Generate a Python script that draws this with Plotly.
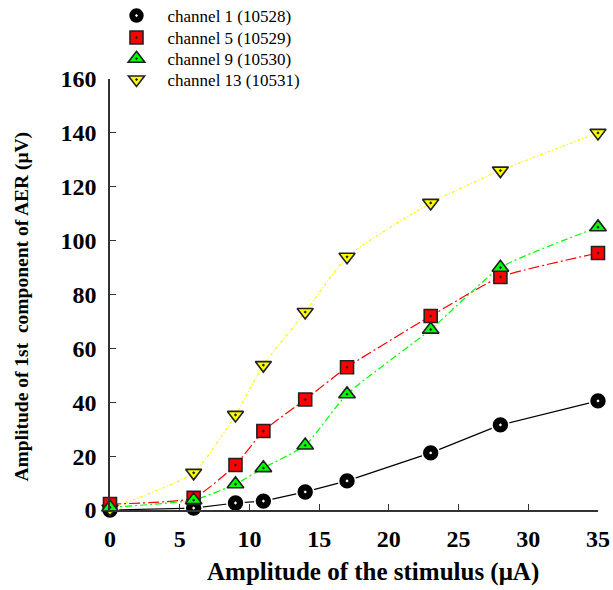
import plotly.graph_objects as go

x = [0, 6, 9, 11, 14, 17, 23, 28, 35]
ch1 = [0, 0.7, 2.6, 3.3, 6.7, 10.8, 21.2, 31.6, 40.5]
ch5 = [2.2, 4.5, 16.7, 29.3, 41, 53, 72, 86.5, 95.4]
ch9 = [1, 3.7, 9.6, 15.6, 24, 43, 67, 90, 105]
ch13 = [0.5, 13.8, 35.3, 53.8, 73.5, 94, 114, 126, 140]
names = ["channel 1 (10528)", "channel 5 (10529)", "channel 9 (10530)", "channel 13 (10531)"]
x_ticks = [0, 5, 10, 15, 20, 25, 30, 35]
y_ticks = [0, 20, 40, 60, 80, 100, 120, 140, 160]

FONT = "Liberation Serif"

series = [
    # (y, name, line colour, dash, shape, symbol, fill, outline, size, legend id)
    (ch1, names[0], "black", "solid", "linear", "circle-dot", "black", "white", 17, "legend"),
    (ch13, names[3], "#FFFF00", "3px,2px,1px,2px", "spline", "triangle-down-dot", "#FFFF00", "#222", 14, "legend4"),
    (ch5, names[1], "#FF0000", "11px,3px,2px,3px", "spline", "square-dot", "#FF0000", "#222", 13, "legend2"),
    (ch9, names[2], "#00FF00", "7px,3px,2px,3px", "spline", "triangle-up-dot", "#00FF00", "#222", 14.5, "legend3"),
]

fig = go.Figure()
for y, nm, lc, dash, shape, sym, fc, oc, sz, lg in series:
    fig.add_trace(go.Scatter(
        x=x, y=y, mode="lines", showlegend=False, cliponaxis=False,
        line=dict(color=lc, width=1.2, dash=dash, shape=shape, smoothing=0.5),
        hoverinfo="skip"))
for y, nm, lc, dash, shape, sym, fc, oc, sz, lg in series:
    fig.add_trace(go.Scatter(
        x=x, y=y, mode="markers", name=nm, legend=lg, cliponaxis=False,
        marker=dict(symbol=sym, size=sz, color=fc, line=dict(color=oc, width=1.6))))

leg_rows = {"legend": 16, "legend2": 38, "legend3": 59, "legend4": 80}
legends = {}
for key, yc in leg_rows.items():
    legends[key] = dict(
        x=105.5 / 613, xref="container", y=1 - yc / 590, yref="container",
        xanchor="left", yanchor="middle",
        font=dict(family=FONT, size=17, color="black"),
        bgcolor="rgba(0,0,0,0)", itemwidth=52,
    )

fig.update_layout(
    width=613, height=590,
    margin=dict(l=110, r=15, t=79, b=80, autoexpand=False),
    paper_bgcolor="white", plot_bgcolor="white",
    font=dict(family=FONT, color="black"),
    showlegend=True,
    **legends,
    xaxis=dict(
        range=[0, 35], tickvals=x_ticks, ticks="inside", ticklen=6, tickcolor="#333",
        showline=True, linecolor="#333", linewidth=1.5, showgrid=False, zeroline=False,
        tickfont=dict(family=FONT, size=24, weight="bold"), ticklabelstandoff=6,
    ),
    yaxis=dict(
        range=[0, 160], tickvals=y_ticks, ticks="inside", ticklen=6, tickcolor="#333",
        showline=True, linecolor="#333", linewidth=1.5, showgrid=False, zeroline=False,
        tickfont=dict(family=FONT, size=24, weight="bold"), ticklabelstandoff=7,
    ),
    annotations=[
        dict(text="Amplitude of the stimulus (μA)", xref="paper", yref="paper",
             x=(373 - 110) / 488, y=-(572 - 510) / 431, xanchor="center", yanchor="middle",
             showarrow=False, font=dict(family=FONT, size=25, weight="bold")),
        dict(text="Amplitude of 1st  component of AER (μV)", xref="paper", yref="paper",
             x=(21 - 110) / 488, y=(510 - 306.5) / 431, xanchor="center", yanchor="middle",
             textangle=-90, showarrow=False, font=dict(family=FONT, size=19.5, weight="bold")),
    ],
)

fig.write_html("out.html")
